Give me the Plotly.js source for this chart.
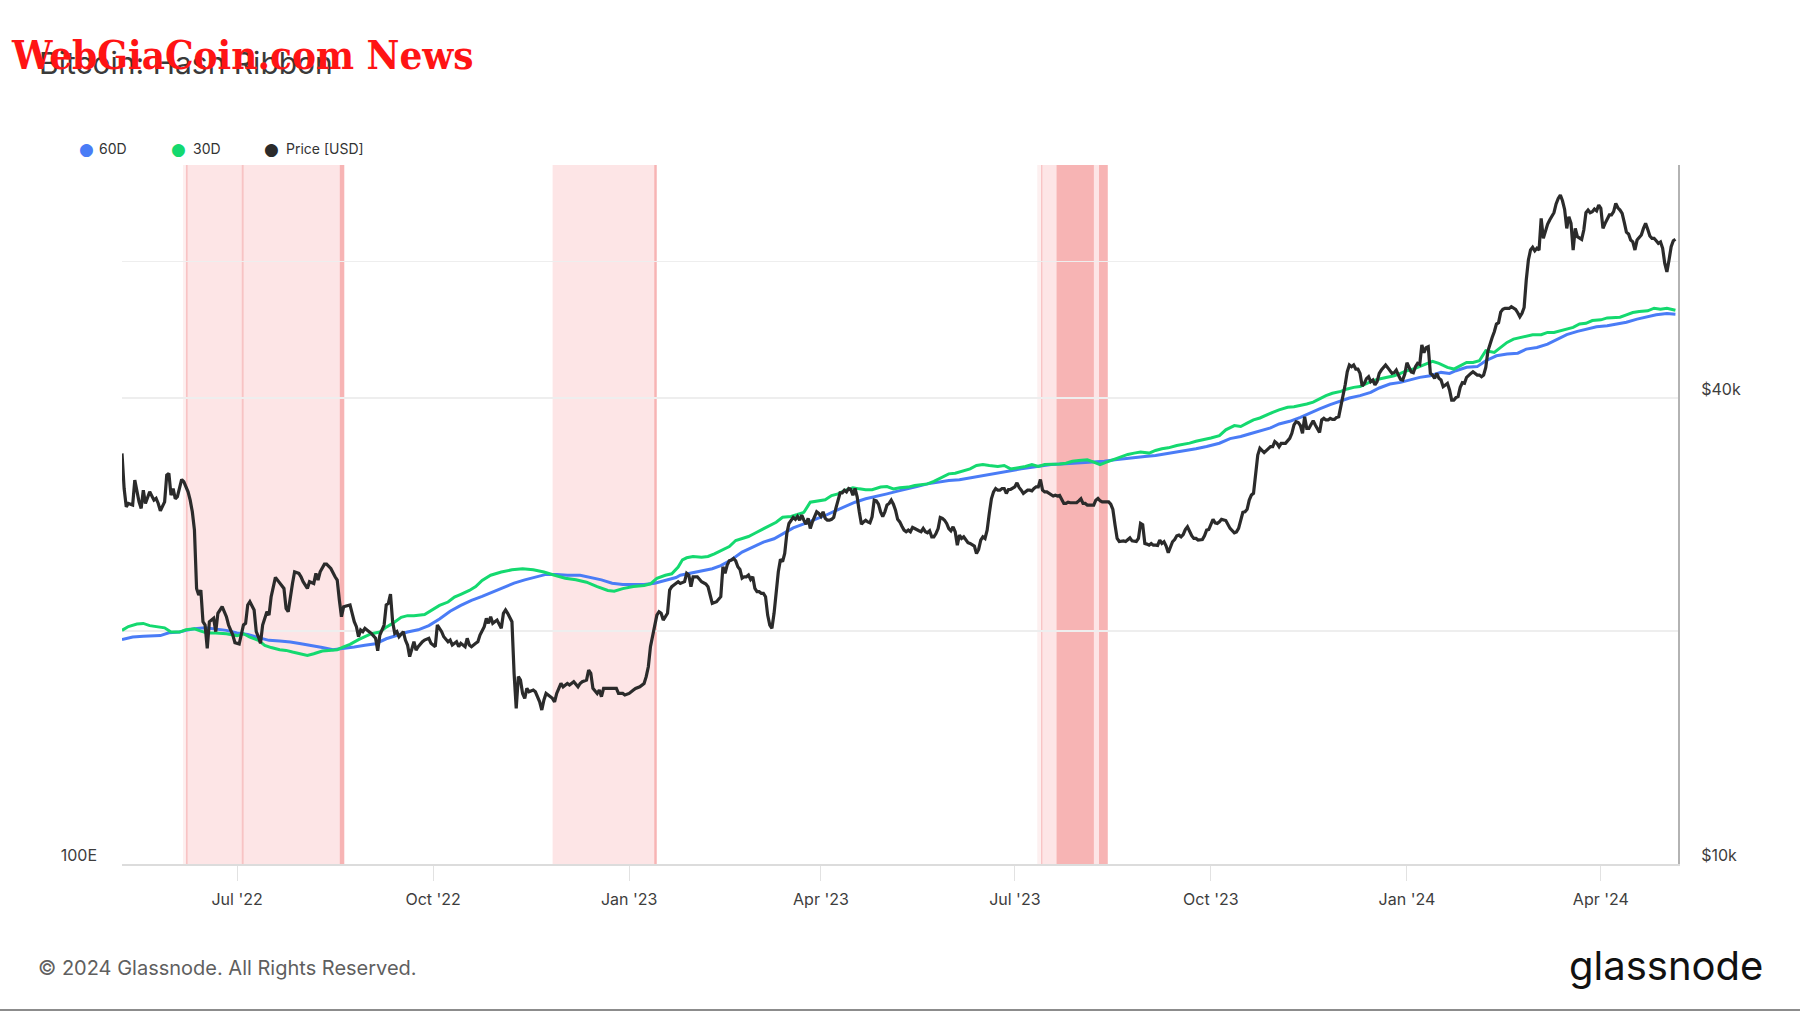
<!DOCTYPE html>
<html>
<head>
<meta charset="utf-8">
<script src="https://cdn.plot.ly/plotly-3.0.1.min.js"></script>
<style>
  html, body { margin: 0; padding: 0; background: #ffffff; }
  #chart { width: 1800px; height: 1013px; }
</style>
</head>
<body>
<div id="chart"></div>
<script>
// ---------- DATA ----------
// Series start date; each point is [day offset from START_DATE, value]
const START_DATE = '2022-05-08';

// Price [USD] (daily close)
const pricePoints = [[0,33920],[1,30560],[2,28940],[3,29230],[5,29090],[6,31330],[8,29370],[9,28800],[10,30410],[11,29230],[13,30260],[15,29520],[16,29670],[17,29230],[18,28600],[20,29370],[21,31800],[22,31960],[23,29960],[24,30560],[25,29640],[26,29820],[28,31390],[29,31180],[31,30260],[32,29520],[33,28510],[34,27000],[35,22700],[36,22260],[37,22590],[38,20560],[39,20360],[40,18990],[41,20560],[42,20660],[43,20770],[44,19960],[45,21080],[47,21500],[49,20870],[50,20360],[52,19760],[53,19320],[55,19240],[57,20360],[58,20460],[59,21610],[60,21820],[62,21290],[63,19960],[64,19660],[65,19280],[66,20360],[67,20770],[68,21180],[69,20970],[70,22150],[72,23460],[73,23270],[75,22820],[76,22700],[77,21390],[78,21180],[80,23040],[81,23850],[83,23740],[84,23500],[85,23160],[87,22700],[88,23160],[90,23040],[91,23740],[92,23270],[93,23850],[94,24090],[95,24400],[96,24400],[98,24090],[100,23500],[101,23270],[102,21930],[103,20870],[104,21500],[106,21610],[107,21610],[109,20560],[110,20260],[111,19660],[112,20060],[113,19960],[114,20160],[116,19960],[117,19860],[119,19570],[120,18860],[121,19760],[123,20360],[124,21610],[125,21710],[126,22320],[127,20560],[128,19860],[129,19960],[130,19660],[132,19960],[133,19470],[134,19180],[135,18530],[137,19370],[138,18900],[139,19090],[141,19370],[142,19470],[144,19570],[145,19280],[147,19090],[148,20360],[150,19960],[151,19660],[153,19370],[154,19470],[155,19180],[157,19370],[158,19090],[159,19280],[161,19090],[162,19570],[163,19180],[164,19090],[166,19280],[167,19370],[168,19760],[170,20260],[171,20770],[172,20460],[173,20870],[174,20460],[176,20660],[177,20360],[178,20160],[179,21080],[180,21290],[181,21080],[183,20560],[184,17630],[185,15890],[186,17460],[187,17280],[188,16610],[189,16370],[190,16860],[191,16690],[193,16780],[194,16690],[196,16200],[197,15810],[198,16290],[199,16610],[200,16530],[202,16370],[203,16200],[204,16610],[206,17110],[207,16940],[209,17110],[210,17030],[212,17200],[214,16940],[215,17110],[216,17200],[218,17280],[219,17810],[220,17630],[221,16860],[223,16610],[224,16780],[225,16450],[226,16860],[227,16860],[229,16860],[230,16860],[232,16860],[233,16610],[235,16610],[236,16530],[238,16610],[240,16780],[241,16860],[243,16940],[245,17110],[246,17460],[247,17980],[248,19090],[250,20260],[251,20970],[252,21180],[253,21080],[254,20660],[256,21080],[257,22590],[258,22820],[259,22930],[260,23040],[261,23160],
[262,23040],[264,23160],[265,23740],[266,23620],[267,22820],[268,23500],[270,23500],[272,23160],[274,23000],[275,22820],[276,22260],[277,21710],[279,21820],[281,22150],[282,24210],[283,23740],[284,24330],[285,24640],[286,24700],[287,24820],[288,24640],[289,24210],[290,24020],[291,23400],[292,23500],[293,23500],[294,23620],[295,23310],[296,23500],[297,22700],[298,22480],[299,22480],[300,22370],[301,22370],[302,22150],[303,20970],[304,20360],[305,20160],[306,21080],[307,22700],[308,23850],[309,24750],[310,24580],[311,25190],[312,26730],[313,27540],[314,27810],[315,28040],[316,27880],[317,28120],[318,27810],[319,28230],[320,27810],[321,27480],[322,27970],[323,27130],[324,27670],[325,28120],[326,28510],[327,28370],[328,28120],[329,28510],[330,27970],[331,27810],[332,27810],[333,27880],[334,28040],[335,28800],[336,29520],[337,30170],[338,30170],[339,30410],[340,30260],[341,30560],[342,30470],[343,29960],[344,30560],[345,29820],[346,28510],[347,27480],[348,27670],[349,27810],[350,27670],[351,27590],[352,28090],[353,29520],[354,29460],[355,29170],[356,28510],[357,28120],[358,28510],[359,29090],[360,29230],[361,29520],[362,29170],[363,28650],[364,27880],[365,27670],[366,27310],[367,27000],[368,26870],[369,27000],[370,26870],[371,27220],[372,27130],[373,27000],[374,26950],[375,26870],[376,27130],[377,26870],[378,26790],[379,26950],[380,26470],[381,26470],[382,26730],[383,27130],[384,28040],[385,27970],[386,27810],[387,27540],[388,27130],[389,26950],[390,27270],[391,26870],[392,25820],[393,26600],[394,26340],[395,26470],[396,26260],[397,26010],[398,25950],[399,25820],[400,25750],[401,25190],[402,25490],[403,26210],[404,26470],[405,26340],[406,27000],[407,28370],[408,29640],[409,30260],[410,30560],[411,30410],[412,30410],[413,30560],[414,30560],[415,30110],[416,30470],[417,30470],[418,30560],[419,30710],[420,31080],[421,30650],[422,30410],[423,30110],[424,30260],[425,30410],[426,30410],[427,30350],[428,30560],[429,30710],[430,30710],[431,31390],[432,30410],[433,30260],[434,30260],[435,30110],[436,29960],[437,29880],[438,29960],[439,29880],[440,29930],[441,29520],[442,29230],[443,29230],[444,29340],[445,29290],[446,29290],[447,29230],[448,29290],[449,29460],[450,29640],[451,29230],[452,29230],[453,29090],[454,29090],[455,29090],[456,29090],[457,29520],[458,29670],[459,29460],[460,29370],[461,29370],[462,29370],[463,29370],[464,29170],[465,28710],[466,27430],[467,26340],[468,26100],[469,26130],[470,26150],[471,26100],[472,26210],[473,26380],[474,26150],[475,26100],[476,26100],[477,26340],[478,27540],[479,27430],[480,25950],[481,25900],[482,25820],[483,25950],[484,25820],[485,25820],[486,25800],[487,26210],[488,25950],[489,26080],[490,25750],[491,25240],[492,25700],[493,26080],[494,26260],[495,26550],[496,26600],[497,26470],[498,26650],[499,27050],[500,27270],[501,26870],[502,26550],[503,26340],[504,26340],[505,26210],[506,26210],[507,26260],[508,26550],[509,27000],[510,27050],[511,27540],[512,27880],[513,27590],[514,27540],[515,27670],
[516,27880],[518,27780],[520,27140],[522,26790],[523,26860],[524,27140],[525,27780],[526,28470],[527,28520],[528,28720],[529,29530],[530,29970],[531,30120],[532,31810],[533,33760],[534,34440],[535,34270],[536,34010],[537,34210],[538,34440],[539,34610],[540,34610],[541,35130],[542,34960],[543,34610],[544,34960],[546,34960],[548,35480],[549,36010],[550,36920],[551,37280],[552,37180],[553,36860],[554,36010],[555,37840],[556,36540],[557,36540],[558,36970],[559,37390],[560,36920],[561,36440],[562,36090],[563,37470],[564,37650],[565,37470],[566,37470],[567,37650],[568,37540],[569,37540],[570,37760],[571,37840],[572,39060],[573,40080],[574,41580],[575,43260],[576,44130],[577,43910],[578,44130],[579,43600],[580,43600],[581,43040],[582,41450],[583,41780],[584,42370],[585,42620],[586,41990],[587,42200],[588,41580],[589,41990],[590,43040],[591,43470],[592,43820],[593,44130],[594,43780],[595,43390],[596,43040],[597,43130],[598,43470],[599,42830],[600,42280],[601,42200],[602,42960],[603,44430],[604,43910],[605,43220],[606,43130],[607,43910],[608,44340],[609,44200],[610,46830],[611,45780],[612,46460],[613,46600],[614,43040],[615,42830],[616,42410],[617,43040],[618,42410],[619,42200],[620,41370],[621,41580],[622,41780],[623,40960],[624,39760],[625,39760],[626,40040],[627,40160],[628,41290],[629,41860],[630,41780],[631,42540],[632,42830],[633,43040],[634,43260],[635,43040],[636,42830],[637,42830],[638,42620],[639,42830],[640,43820],[641,45990],[642,47160],[643,47900],[644,48720],[645,49840],[646,50050],[647,51650],[648,52070],[649,52220],[650,52220],[651,52220],[652,52480],[653,52220],[654,52070],[655,51550],[656,50940],[657,51450],[658,52370],[659,56820],[660,60300],[661,62120],[662,62620],[663,61990],[664,62440],[665,62120],[666,68250],[667,64310],[668,65930],[669,67050],[670,67920],[671,68800],[672,69420],[673,71240],[674,72440],[675,73160],[676,71930],[677,70100],[678,66250],[679,68590],[680,67250],[681,62120],[682,66250],[683,64630],[684,64310],[685,64120],[686,65930],[687,69420],[688,69970],[689,69420],[690,69620],[691,70170],[692,69790],[693,71010],[694,70310],[695,66250],[696,67260],[697,68250],[698,68950],[699,68950],[700,69620],[701,71370],[702,70440],[703,69970],[704,69280],[705,67450],[706,65510],[707,65150],[708,63990],[709,63640],[710,62120],[711,63990],[712,64380],[713,64950],[714,66250],[715,67260],[716,66060],[717,64760],[718,64310],[719,64310],[720,63870],[721,63380],[722,63640],[723,62440],[724,59700],[725,58210],[726,60300],[727,62740],[728,63870],[729,64140]];

// Hash rate 60D moving average [EH/s]
const hash60Points = [[0,209.4],[5,211.2],[10,211.7],[15,212.2],[18,212.2],[22,214.2],[27,214.7],[30,215.9],[34,217.0],[39,217.7],[44,217.0],[49,215.9],[54,214.0],[59,213.0],[64,210.8],[69,208.9],[74,208.4],[79,207.8],[84,206.6],[89,205.5],[94,204.0],[99,202.6],[104,203.3],[109,204.4],[114,205.5],[119,206.6],[124,210.0],[129,212.2],[134,214.7],[139,216.3],[144,219.3],[149,224.2],[154,229.9],[159,234.4],[164,238.3],[169,241.4],[174,244.9],[179,248.4],[184,252.2],[189,255.0],[194,257.5],[199,259.6],[204,259.6],[209,258.9],[215,258.9],[219,257.5],[225,255.0],[230,252.2],[235,251.2],[240,251.2],[245,251.2],[250,252.2],[255,254.5],[260,256.9],[262,258.9],[267,260.7],[272,263.0],[277,264.5],[281,267.3],[286,272.4],[291,279.4],[296,284.0],[301,288.7],[306,291.9],[310,296.7],[315,302.6],[320,306.6],[325,310.7],[330,315.2],[335,320.4],[340,325.7],[344,329.3],[349,333.0],[354,335.5],[359,338.5],[364,341.5],[369,344.1],[373,346.8],[378,349.8],[383,351.7],[388,353.7],[393,354.6],[398,356.8],[403,359.5],[407,361.5],[412,363.5],[417,365.5],[422,367.5],[427,369.5],[432,371.6],[436,372.8],[441,373.6],[446,374.4],[451,375.3],[456,375.7],[461,376.9],[466,378.6],[470,379.9],[475,382.0],[480,382.8],[485,384.1],[490,386.3],[495,388.4],[499,390.5],[504,392.7],[509,395.7],[515,399.9],[520,406.1],[525,408.8],[529,412.3],[534,415.9],[539,420.6],[543,426.1],[548,429.9],[553,435.6],[558,442.8],[562,447.7],[567,454.1],[572,459.1],[576,464.2],[581,467.8],[586,472.9],[590,479.7],[595,486.0],[600,488.7],[604,492.5],[609,496.8],[614,499.5],[619,505.0],[623,503.3],[626,507.8],[631,513.5],[636,514.7],[640,524.8],[645,533.4],[650,536.4],[655,538.0],[659,545.3],[664,548.3],[669,554.3],[673,561.7],[678,571.8],[683,578.1],[687,582.5],[692,587.1],[697,589.0],[701,592.3],[706,595.6],[711,601.8],[716,606.5],[720,610.5],[725,613.1],[729,611.8]];

// Hash rate 30D moving average [EH/s]
const hash30Points = [[0,215.9],[3,218.6],[7,220.4],[10,220.9],[13,219.3],[17,218.6],[20,217.7],[23,214.7],[27,214.7],[30,216.3],[34,217.0],[37,215.4],[40,214.0],[44,214.0],[49,213.5],[54,212.2],[57,213.5],[60,211.2],[64,208.9],[67,205.5],[70,204.0],[74,202.6],[77,202.1],[80,201.0],[84,199.5],[87,198.8],[90,199.9],[94,201.7],[97,202.1],[101,202.6],[104,204.4],[107,206.2],[111,209.4],[114,211.2],[117,213.5],[121,214.7],[124,218.2],[127,220.9],[131,225.4],[134,226.6],[137,226.6],[142,227.4],[146,231.2],[149,234.4],[153,237.0],[156,240.9],[159,243.1],[163,246.2],[166,249.4],[169,254.5],[173,258.9],[178,261.6],[183,263.6],[188,264.5],[193,263.6],[198,261.6],[203,258.9],[208,256.3],[213,255.0],[218,253.0],[223,249.4],[228,246.2],[231,245.6],[235,247.7],[240,249.4],[245,250.3],[248,251.7],[251,256.3],[255,258.9],[258,260.1],[261,265.9],[263,272.4],[265,274.2],[268,275.4],[272,274.8],[275,275.4],[278,277.8],[281,280.9],[285,284.6],[288,290.3],[291,291.9],[294,294.1],[297,297.3],[301,301.6],[304,304.9],[307,308.3],[310,313.4],[314,314.1],[317,316.2],[320,318.5],[323,329.3],[327,330.4],[330,331.9],[333,336.6],[336,338.5],[339,342.2],[343,345.4],[346,344.1],[349,343.1],[352,343.1],[356,346.1],[359,346.8],[362,344.1],[365,345.4],[369,346.1],[372,347.9],[375,349.1],[378,349.8],[381,352.8],[385,358.3],[388,361.5],[391,362.3],[394,364.7],[398,367.5],[401,371.6],[404,372.8],[407,371.6],[411,370.4],[414,371.6],[417,367.5],[420,368.7],[424,370.4],[427,372.8],[430,370.4],[433,372.8],[436,372.8],[440,373.6],[443,374.4],[446,376.9],[449,377.8],[453,378.6],[456,375.7],[459,372.8],[462,375.7],[466,379.9],[469,382.8],[472,385.4],[475,387.1],[478,388.4],[482,387.1],[485,390.5],[488,392.7],[491,393.9],[495,397.0],[498,398.3],[501,400.0],[504,402.5],[508,405.6],[511,406.9],[515,410.0],[518,417.9],[522,423.9],[525,422.6],[528,427.2],[531,431.8],[534,434.6],[537,439.2],[540,442.8],[543,446.3],[547,450.2],[550,451.1],[553,452.7],[556,455.2],[559,457.9],[562,463.0],[565,467.8],[568,471.4],[572,474.4],[575,478.2],[578,480.7],[581,481.9],[584,486.0],[587,491.4],[590,494.1],[594,496.8],[597,499.5],[600,503.3],[603,507.8],[606,510.6],[609,514.7],[612,518.9],[615,523.7],[618,520.2],[622,513.5],[625,510.6],[628,516.5],[631,521.8],[634,521.8],[637,524.8],[640,542.3],[644,539.3],[647,548.3],[650,557.4],[653,563.5],[656,566.4],[659,569.2],[662,571.8],[666,571.8],[669,576.1],[672,576.1],[675,579.2],[678,582.5],[681,585.7],[684,592.3],[687,593.6],[690,599.1],[694,600.4],[697,604.3],[700,605.7],[703,605.7],[706,610.5],[709,615.2],[712,617.2],[716,618.5],[719,623.9],[722,621.9],[725,623.9],[729,619.9]];

// Capitulation shading periods (30D below 60D)
const bandStart = ['2022-06-05 19:12','2022-11-26 02:00','2023-07-11 17:00',
                   '2022-06-05 19:12','2023-07-11 17:00',
                   '2022-06-07 00:00','2022-07-03 05:00','2023-07-13 07:00',
                   '2022-08-18 05:00','2023-01-12 19:00','2023-07-20 14:00','2023-08-09 12:00'];
const bandEnd   = ['2022-08-20 07:00','2023-01-13 22:00','2023-08-13 14:00',
                   '2022-06-07 00:00','2023-07-13 07:00',
                   '2022-06-07 19:00','2022-07-04 02:00','2023-07-13 22:00',
                   '2022-08-20 07:00','2023-01-13 22:00','2023-08-07 02:00','2023-08-13 14:00'];
const bandKind  = ['light','light','light','faint','faint','edge','edge','edge','dark','dark','dark','dark'];

// Axis ticks
const xTickDates  = ['2022-07-01','2022-10-01','2023-01-01','2023-04-01','2023-07-01','2023-10-01','2024-01-01','2024-04-01'];
const xTickLabels = ["Jul '22","Oct '22","Jan '23","Apr '23","Jul '23","Oct '23","Jan '24","Apr '24"];
const priceTickVals  = [10000, 20000, 40000, 60000, 80000];
const priceTickLabels = ['$10k', '', '$40k', '', ''];
const hashTickVals   = [100];
const hashTickLabels = ['100E'];
const X_RANGE = ['2022-05-08', '2024-05-07 05:00'];

// ---------- BUILD ----------
const baseMs = Date.parse(START_DATE + 'T00:00:00Z');
const toDate = d => new Date(baseMs + d * 86400000).toISOString().slice(0, 10);

const BLUE = '#4a7cf6', GREEN = '#14d96f', BLACK = '#2b2b2b';
const bandColors = { light: '#fde5e6', faint: '#fdf0f0', edge: '#f8c3c4', dark: '#f7b4b4' };

const traces = [
  { name: '60D', x: hash60Points.map(p => toDate(p[0])), y: hash60Points.map(p => p[1]),
    type: 'scatter', mode: 'lines', line: { color: BLUE, width: 3 }, yaxis: 'y', hoverinfo: 'skip' },
  { name: '30D', x: hash30Points.map(p => toDate(p[0])), y: hash30Points.map(p => p[1]),
    type: 'scatter', mode: 'lines', line: { color: GREEN, width: 3 }, yaxis: 'y', hoverinfo: 'skip' },
  { name: 'Price [USD]', x: pricePoints.map(p => toDate(p[0])), y: pricePoints.map(p => p[1]),
    type: 'scatter', mode: 'lines', line: { color: BLACK, width: 3.2 }, yaxis: 'y2', hoverinfo: 'skip' }
];

const shapes = bandStart.map((s, i) => ({
  type: 'rect', xref: 'x', yref: 'paper', x0: s, x1: bandEnd[i], y0: 0, y1: 1,
  fillcolor: bandColors[bandKind[i]], line: { width: 0 }, layer: 'below'
}));
// thin frame line at the very bottom of the image
shapes.push({ type: 'line', xref: 'paper', yref: 'paper', x0: -0.0784, x1: 1.0784, y0: -0.2089, y1: -0.2089,
  line: { color: '#8c8c8c', width: 2 } });

const legendItems = [
  { label: '60D', color: BLUE, dot: -0.0231, text: -0.0161 },
  { label: '30D', color: GREEN, dot: 0.0366, text: 0.0443 },
  { label: 'Price [USD]', color: BLACK, dot: 0.0964, text: 0.1041 }
];
const annotations = [];
legendItems.forEach(it => {
  annotations.push({ xref: 'paper', yref: 'paper', x: it.dot, y: 1.0229, xanchor: 'center', yanchor: 'middle',
    text: '●', showarrow: false, font: { family: 'DejaVu Sans', size: 17, color: it.color } });
  annotations.push({ xref: 'paper', yref: 'paper', x: it.text, y: 1.0229, xanchor: 'left', yanchor: 'middle',
    text: it.label, showarrow: false, font: { family: 'Inter', size: 14, color: '#333333' } });
});
annotations.push({ xref: 'paper', yref: 'paper', x: -0.0726, y: 1.1574, xanchor: 'left', yanchor: 'middle',
  text: '<b>WebGiaCoin.com News</b>', showarrow: false,
  font: { family: 'DejaVu Serif Condensed, DejaVu Serif', size: 40, color: '#ff1414' } });
annotations.push({ xref: 'paper', yref: 'paper', x: -0.0555, y: -0.1488, xanchor: 'left', yanchor: 'middle',
  text: '© 2024 Glassnode. All Rights Reserved.', showarrow: false,
  font: { family: 'Inter', size: 20, color: '#5f5f5f' } });
annotations.push({ xref: 'paper', yref: 'paper', x: 1.0562, y: -0.1445, xanchor: 'right', yanchor: 'middle',
  text: 'glassnode', showarrow: false, font: { family: 'Inter', size: 40, color: '#111111' } });

const layout = {
  width: 1800, height: 1013,
  margin: { l: 122, r: 122, t: 165, b: 149, pad: 0 },
  paper_bgcolor: '#ffffff', plot_bgcolor: 'rgba(0,0,0,0)',
  font: { family: 'Inter', color: '#3d3d3d' },
  showlegend: false, hovermode: false,
  title: { text: 'Bitcoin: Hash Ribbon', xref: 'container', yref: 'container', x: 0.0217, y: 0.9378,
           xanchor: 'left', yanchor: 'middle', font: { family: 'Inter', size: 30, color: '#3a3a3a' } },
  xaxis: {
    type: 'date', range: X_RANGE, tickvals: xTickDates, ticktext: xTickLabels,
    ticks: 'outside', ticklen: 15, tickwidth: 1, tickcolor: '#e2e2e2',
    showgrid: false, zeroline: false, showline: true, linecolor: '#dcdcdc', linewidth: 2,
    tickfont: { family: 'Inter', size: 16, color: '#3d3d3d' }, ticklabelstandoff: 5, fixedrange: true
  },
  yaxis: {
    type: 'log', range: [2, 3], side: 'left', tickvals: hashTickVals, ticktext: hashTickLabels,
    showgrid: false, zeroline: false, showline: false, ticks: '',
    tickfont: { family: 'Inter', size: 16, color: '#3d3d3d' }, ticklabelstandoff: 24, ticklabelshift: -9, fixedrange: true
  },
  yaxis2: {
    type: 'log', range: [4, 4.9031], side: 'right', overlaying: 'y', tickvals: priceTickVals, ticktext: priceTickLabels,
    showgrid: true, gridcolor: '#eeeeee', gridwidth: 1.5, zeroline: false,
    showline: true, linecolor: '#b3b3b3', linewidth: 2, ticks: '',
    tickfont: { family: 'Inter', size: 16, color: '#3d3d3d' }, ticklabelstandoff: 18, ticklabelshift: -9, fixedrange: true
  },
  shapes: shapes,
  annotations: annotations
};

Plotly.newPlot('chart', traces, layout, { displayModeBar: false, staticPlot: true });
</script>
</body>
</html>
